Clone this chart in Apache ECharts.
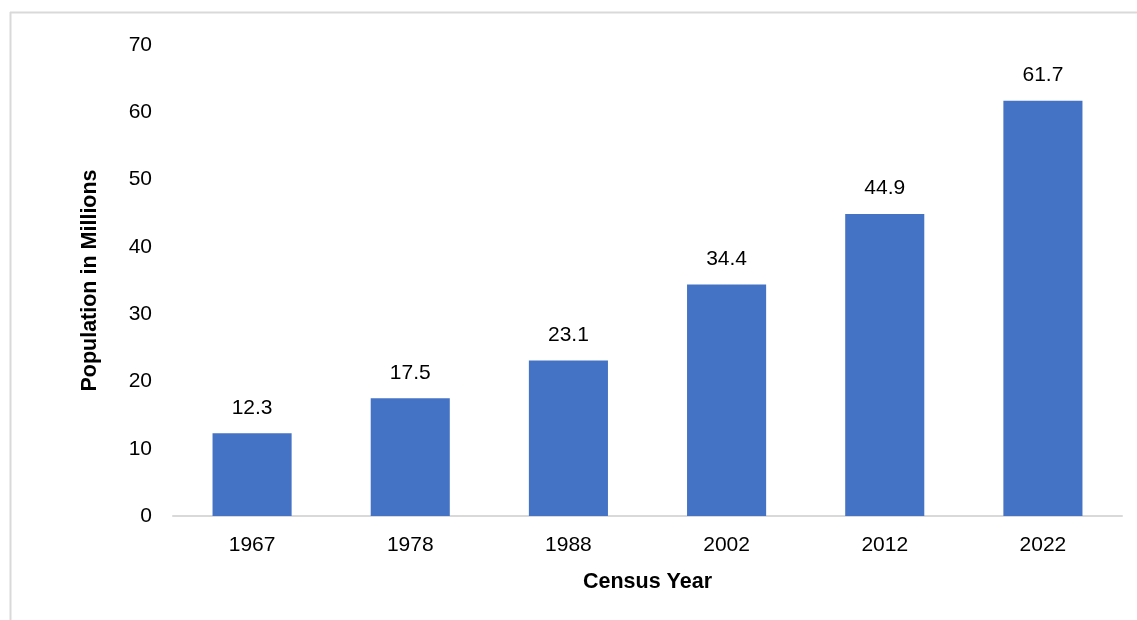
<!DOCTYPE html>
<html><head><meta charset="utf-8">
<script src="https://cdn.jsdelivr.net/npm/echarts@6/dist/echarts.min.js"></script>
<style>html,body{margin:0;padding:0;background:#fff}#c{width:1137px;height:620px}</style>
</head><body><div id="c"></div>
<script>
const categories = ['1967','1978','1988','2002','2012','2022'];
const population = [12.3, 17.5, 23.1, 34.4, 44.9, 61.7];
const yTicks = [0, 10, 20, 30, 40, 50, 60, 70];

const chart = echarts.init(document.getElementById('c'), null, {renderer:'canvas'});
const font = '"Liberation Sans", Arial, sans-serif';
chart.setOption({
  backgroundColor: '#fff',
  animation: false,
  graphic: [
    {type:'line', shape:{x1:10, y1:12.5, x2:1137, y2:12.5}, style:{stroke:'#d9d9d9', lineWidth:2}},
    {type:'line', shape:{x1:10.5, y1:12, x2:10.5, y2:620}, style:{stroke:'#d9d9d9', lineWidth:2}}
  ],
  grid: {left:173, right:15, top:45, bottom:104},
  xAxis: {
    type:'category', data: categories,
    axisLine:{show:true, lineStyle:{color:'#d9d9d9', width:2}},
    axisTick:{show:false},
    axisLabel:{color:'#000', fontSize:21, fontFamily:font, margin:19},
    name:'Census Year', nameLocation:'middle', nameGap:55,
    nameTextStyle:{color:'#000', fontSize:21.5, fontWeight:'bold', fontFamily:font}
  },
  yAxis: {
    type:'value', min:yTicks[0], max:yTicks[yTicks.length-1], interval:10,
    axisLine:{show:false}, axisTick:{show:false}, splitLine:{show:false},
    axisLabel:{color:'#000', fontSize:21, fontFamily:font, margin:21},
    name:'Population in Millions', nameLocation:'middle', nameGap:72,
    nameTextStyle:{color:'#000', fontSize:21.5, fontWeight:'bold', fontFamily:font}
  },
  series: [{
    type:'bar', data: population, barWidth:'50%',
    itemStyle:{color:'#4472C4'},
    label:{show:true, position:'top', distance:15, color:'#000', fontSize:21, fontFamily:font}
  }]
});
</script></body></html>
